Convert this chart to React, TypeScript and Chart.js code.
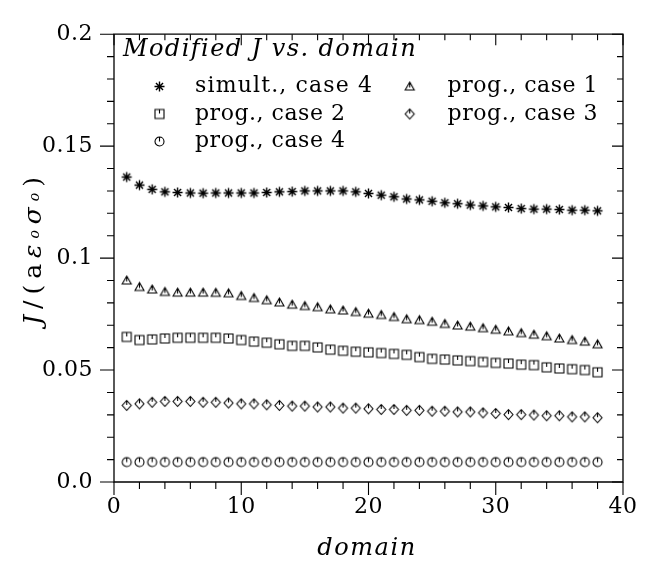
import React, { useEffect, useRef } from "react";
import { Chart, registerables } from "chart.js";

Chart.register(...registerables);

// ---------------- data ----------------
const domainIndex = [
  1, 2, 3, 4, 5, 6, 7, 8, 9, 10, 11, 12, 13, 14, 15, 16, 17, 18, 19, 20,
  21, 22, 23, 24, 25, 26, 27, 28, 29, 30, 31, 32, 33, 34, 35, 36, 37, 38,
];

const simultCase4 = [
  0.1362, 0.1326, 0.1307, 0.1296, 0.1293, 0.1291, 0.129, 0.1291, 0.1291, 0.1291,
  0.1291, 0.1293, 0.1296, 0.1297, 0.13, 0.13, 0.13, 0.13, 0.1296, 0.1289,
  0.1281, 0.1274, 0.1264, 0.126, 0.1254, 0.1247, 0.1243, 0.1237, 0.1233, 0.1229,
  0.1226, 0.1221, 0.1219, 0.1219, 0.1217, 0.1214, 0.1214, 0.1211,
];

const progCase1 = [
  0.09, 0.0871, 0.086, 0.0849, 0.0846, 0.0846, 0.0846, 0.0845, 0.0843, 0.0831,
  0.0822, 0.0812, 0.0802, 0.0792, 0.0786, 0.0781, 0.0771, 0.0766, 0.0759, 0.0752,
  0.0746, 0.0737, 0.0727, 0.0723, 0.0716, 0.0706, 0.0699, 0.0694, 0.0687, 0.068,
  0.0673, 0.0665, 0.0658, 0.0651, 0.0641, 0.0634, 0.0627, 0.0615,
];

const progCase2 = [
  0.0648, 0.0634, 0.0637, 0.0641, 0.0644, 0.0644, 0.0644, 0.0644, 0.0641, 0.0634,
  0.0627, 0.0622, 0.0615, 0.0608, 0.0608, 0.0601, 0.0591, 0.0586, 0.0582, 0.0579,
  0.0576, 0.0572, 0.0568, 0.0558, 0.055, 0.0547, 0.0543, 0.054, 0.0536, 0.0532,
  0.0529, 0.0524, 0.0522, 0.0512, 0.0507, 0.0504, 0.05, 0.049,
];

const progCase3 = [
  0.0342, 0.0349, 0.0356, 0.036, 0.036, 0.036, 0.0356, 0.0356, 0.0353, 0.0349,
  0.0349, 0.0345, 0.0342, 0.0339, 0.0339, 0.0335, 0.0335, 0.033, 0.033, 0.0327,
  0.0324, 0.0324, 0.032, 0.032, 0.0316, 0.0316, 0.0313, 0.0313, 0.0309, 0.0306,
  0.0301, 0.0301, 0.0299, 0.0296, 0.0296, 0.0291, 0.0291, 0.0287,
];

const progCase4 = [
  0.0089, 0.0089, 0.0089, 0.0089, 0.0089, 0.0089, 0.0089, 0.0089, 0.0089, 0.0089,
  0.0089, 0.0089, 0.0089, 0.0089, 0.0089, 0.0089, 0.0089, 0.0089, 0.0089, 0.0089,
  0.0089, 0.0089, 0.0089, 0.0089, 0.0089, 0.0089, 0.0089, 0.0089, 0.0089, 0.0089,
  0.0089, 0.0089, 0.0089, 0.0089, 0.0089, 0.0089, 0.0089, 0.0089,
];

const seriesLabels = [
  "simult., case 4",
  "prog., case 1",
  "prog., case 2",
  "prog., case 3",
  "prog., case 4",
];
const seriesMarkers = ["star", "triangle", "square", "diamond", "circle"];
const seriesValues = [simultCase4, progCase1, progCase2, progCase3, progCase4];

const xTickLabels = ["0", "10", "20", "30", "40"];
const yTickLabels = ["0.0", "0.05", "0.1", "0.15", "0.2"];
const legendTitle = "Modified J vs. domain";
const xTitle = "domain";

// ---------------- styling helpers ----------------
const SERIF = "'DejaVu Serif', 'Liberation Serif', serif";

function makeMarker(kind: string): HTMLCanvasElement {
  const c = document.createElement("canvas");
  c.width = 15;
  c.height = 15;
  const g = c.getContext("2d")!;
  g.strokeStyle = "#000";
  g.lineWidth = 1.1;
  const cx = 7.5;
  const cy = 7.5;
  g.beginPath();
  if (kind === "star") {
    g.lineWidth = 1.4;
    const r = 5;
    for (let k = 0; k < 4; k++) {
      const a = (k * Math.PI) / 4;
      g.moveTo(cx - r * Math.cos(a), cy - r * Math.sin(a));
      g.lineTo(cx + r * Math.cos(a), cy + r * Math.sin(a));
    }
  } else if (kind === "square") {
    g.rect(cx - 4.5, cy - 4.5, 9, 9);
    g.moveTo(cx, cy - 4.5);
    g.lineTo(cx, cy - 0.5);
  } else if (kind === "circle") {
    g.arc(cx, cy, 4.5, 0, Math.PI * 2);
    g.moveTo(cx, cy - 4.5);
    g.lineTo(cx, cy);
  } else if (kind === "diamond") {
    g.moveTo(cx, cy - 5);
    g.lineTo(cx + 4.5, cy);
    g.lineTo(cx, cy + 5);
    g.lineTo(cx - 4.5, cy);
    g.closePath();
    g.moveTo(cx, cy - 5);
    g.lineTo(cx, cy - 0.5);
  } else if (kind === "triangle") {
    g.moveTo(cx, cy - 4.5);
    g.lineTo(cx + 4.5, cy + 3.5);
    g.lineTo(cx - 4.5, cy + 3.5);
    g.closePath();
    g.moveTo(cx, cy - 4.5);
    g.lineTo(cx, cy + 1);
  }
  g.stroke();
  return c;
}

function fitText(
  ctx: CanvasRenderingContext2D,
  text: string,
  x: number,
  y: number,
  font: string,
  target: number
) {
  ctx.font = font;
  (ctx as any).letterSpacing = "0px";
  const w = ctx.measureText(text).width;
  const n = Math.max(1, Array.from(text).length - 1);
  const sp = Math.max(0, (target - w) / n);
  (ctx as any).letterSpacing = sp.toFixed(2) + "px";
  ctx.fillText(text, x, y);
  (ctx as any).letterSpacing = "0px";
}

// frame with ticks: outward on left/bottom, inward on top/right
const framePlugin = {
  id: "frameTicks",
  beforeDraw(chart: any) {
    (chart.ctx as any).letterSpacing = "0.5px";
  },
  afterDraw(chart: any) {
    const { ctx, chartArea } = chart;
    const xs = chart.scales.x;
    const ys = chart.scales.y;
    const { left, right, top, bottom } = chartArea;
    ctx.save();
    ctx.strokeStyle = "#000";
    ctx.lineWidth = 1.3;
    ctx.beginPath();
    ctx.rect(left, top, right - left, bottom - top);
    ctx.stroke();
    ctx.lineWidth = 1.1;
    ctx.beginPath();
    for (let v = 0; v <= 40; v += 2) {
      const px = xs.getPixelForValue(v);
      const major = v % 10 === 0;
      ctx.moveTo(px, bottom);
      ctx.lineTo(px, bottom + (major ? 13 : 7));
      ctx.moveTo(px, top);
      ctx.lineTo(px, top + (major ? 11 : 6));
    }
    for (let k = 0; k <= 20; k++) {
      const py = ys.getPixelForValue(k * 0.01);
      const major = k % 5 === 0;
      ctx.moveTo(left, py);
      ctx.lineTo(left - (major ? 14 : 7), py);
      ctx.moveTo(right, py);
      ctx.lineTo(right - (major ? 11 : 6), py);
    }
    ctx.stroke();
    ctx.restore();
  },
};

const markerImages: Record<string, HTMLCanvasElement> = {};

const legendPlugin = {
  id: "customLegend",
  afterDraw(chart: any) {
    const ctx: CanvasRenderingContext2D = chart.ctx;
    ctx.save();
    ctx.fillStyle = "#000";
    ctx.textAlign = "left";
    ctx.textBaseline = "alphabetic";
    fitText(ctx, legendTitle, 123, 55.7, `italic 24px ${SERIF}`, 292);

    const colMarkerX = [159.5, 409.7];
    const colTextX = [195, 447.6];
    const rowBase = [92, 119.5, 147];
    seriesLabels.forEach((label, i) => {
      const col = i % 2;
      const row = Math.floor(i / 2);
      const img = markerImages[seriesMarkers[i]];
      ctx.drawImage(img, colMarkerX[col] - img.width / 2, rowBase[row] - 5.5 - img.height / 2);
      const target = label.length === 15 ? 177 : 150;
      fitText(ctx, label, colTextX[col], rowBase[row], `22px ${SERIF}`, target);
    });

    // x title
    ctx.textAlign = "center";
    fitText(ctx, xTitle, 367, 555, `italic 24px ${SERIF}`, 98);

    // y title: J/(aε_o σ_o), rotated
    ctx.translate(41, 251);
    ctx.rotate(-Math.PI / 2);
    ctx.textAlign = "left";
    const big = `italic 25px ${SERIF}`;
    const up = `25px ${SERIF}`;
    const small = `italic 14px ${SERIF}`;
    const segs: [string, string, number][] = [
      ["J", big, 0],
      ["/", up, 0],
      ["(", up, 0],
      ["a", up, 0],
      ["ε", big, 0],
      ["o", small, -2],
      ["σ", big, 0],
      ["o", small, -2],
      [")", up, 0],
    ];
    let total = 0;
    (ctx as any).letterSpacing = "0px";
    const widths = segs.map(([t, f]) => {
      ctx.font = f;
      const w = ctx.measureText(t).width;
      total += w;
      return w;
    });
    const targetLen = 148;
    const gap = Math.max(0, (targetLen - total) / (segs.length - 1));
    let cx = -(total + gap * (segs.length - 1)) / 2;
    segs.forEach(([t, f, dy], i) => {
      ctx.font = f;
      ctx.fillText(t, cx, dy);
      cx += widths[i] + gap;
    });
    ctx.restore();
  },
};

export default function App() {
  const ref = useRef<HTMLCanvasElement | null>(null);

  useEffect(() => {
    document.body.style.margin = "0";
    for (const k of seriesMarkers) {
      if (!markerImages[k]) markerImages[k] = makeMarker(k);
    }
    const canvas = ref.current!;
    const datasets = seriesLabels.map((label, i) => ({
      label,
      data: domainIndex.map((d, j) => ({ x: d, y: seriesValues[i][j] })),
      pointStyle: markerImages[seriesMarkers[i]] as any,
      pointRadius: 5,
      showLine: false,
      borderColor: "#000",
      backgroundColor: "#000",
    }));

    const tickFont = { family: SERIF, size: 22 };

    const chart = new Chart(canvas, {
      type: "scatter",
      data: { datasets },
      options: {
        responsive: false,
        animation: false,
        events: [],
        layout: { padding: { top: 19, right: 33, left: 0, bottom: 0 } },
        plugins: {
          legend: { display: false },
          tooltip: { enabled: false },
          title: { display: false },
        },
        scales: {
          x: {
            type: "linear",
            min: 0,
            max: 40,
            afterFit: (s: any) => {
              s.height = 83;
            },
            grid: { display: false, drawTicks: false },
            border: { display: false },
            ticks: {
              stepSize: 10,
              padding: 12,
              color: "#000",
              font: tickFont,
              maxRotation: 0,
              autoSkip: false,
              callback: (v: any) => xTickLabels[Math.round(Number(v) / 10)] ?? "",
            },
          },
          y: {
            type: "linear",
            min: 0,
            max: 0.2,
            afterFit: (s: any) => {
              s.width = 114;
            },
            grid: { display: false, drawTicks: false },
            border: { display: false },
            ticks: {
              stepSize: 0.05,
              padding: 21,
              color: "#000",
              font: tickFont,
              autoSkip: false,
              callback: (v: any) => yTickLabels[Math.round(Number(v) / 0.05)] ?? "",
            },
          },
        },
      } as any,
      plugins: [framePlugin, legendPlugin],
    });
    return () => chart.destroy();
  }, []);

  return (
    <div style={{ position: "absolute", left: 0, top: 0, width: 656, height: 565, background: "#fff" }}>
      <canvas ref={ref} width={656} height={565} style={{ display: "block" }} />
    </div>
  );
}
